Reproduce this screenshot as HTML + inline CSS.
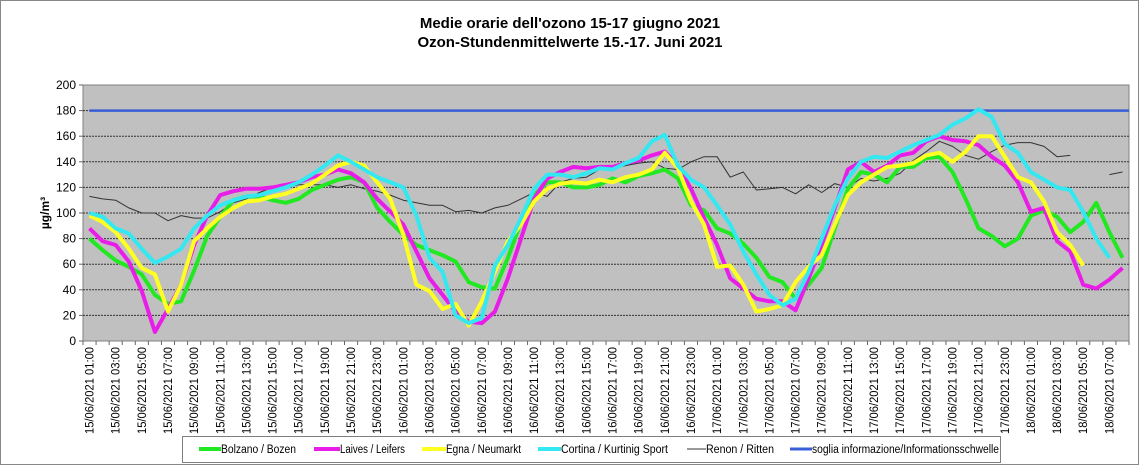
<!DOCTYPE html>
<html><head><meta charset="utf-8"><style>
html,body{margin:0;padding:0;background:#fff;}
svg{display:block;font-family:"Liberation Sans",Arial,sans-serif;}
</style></head><body>
<svg id="c" width="1140" height="466" viewBox="0 0 1140 466" xmlns="http://www.w3.org/2000/svg">
<rect x="0.5" y="0.5" width="1138" height="464" fill="#fff" stroke="#888" stroke-width="1"/>
<text x="570" y="28" font-size="15" font-weight="bold" text-anchor="middle">Medie orarie  dell'ozono  15-17  giugno  2021</text>
<text x="570" y="47" font-size="15" font-weight="bold" text-anchor="middle">Ozon-Stundenmittelwerte 15.-17. Juni 2021</text>
<rect x="83" y="85" width="1046" height="256" fill="#c0c0c0" stroke="#808080" stroke-width="1"/>
<g id="grid"></g>
<g id="series"></g>
<text transform="translate(49,213) rotate(-90)" font-size="12" font-weight="bold" text-anchor="middle">µg/m³</text>
<g id="ylab" font-size="12" text-anchor="end"></g>
<g id="xlab" font-size="11.5"></g>
<rect x="182.5" y="436.5" width="818" height="26" fill="#fff" stroke="#808080"/>
<g font-size="11.5">
<line x1="199" y1="449" x2="221" y2="449" stroke="#22e822" stroke-width="4"/><text x="221" y="453" textLength="75" lengthAdjust="spacingAndGlyphs">Bolzano / Bozen</text>
<line x1="314" y1="449" x2="340" y2="449" stroke="#e81ee8" stroke-width="4"/><text x="340" y="453" textLength="65" lengthAdjust="spacingAndGlyphs">Laives / Leifers</text>
<line x1="422" y1="449" x2="446" y2="449" stroke="#ffff22" stroke-width="4"/><text x="446" y="453" textLength="75" lengthAdjust="spacingAndGlyphs">Egna / Neumarkt</text>
<line x1="538" y1="449" x2="561" y2="449" stroke="#33e8f0" stroke-width="4"/><text x="561" y="453" textLength="107" lengthAdjust="spacingAndGlyphs">Cortina  / Kurtinig Sport</text>
<line x1="687" y1="449" x2="706" y2="449" stroke="#333" stroke-width="1"/><text x="706" y="453" textLength="68" lengthAdjust="spacingAndGlyphs">Renon / Ritten</text>
<line x1="790" y1="449" x2="812" y2="449" stroke="#3a5ed8" stroke-width="3"/><text x="812" y="453" textLength="187" lengthAdjust="spacingAndGlyphs">soglia informazione/Informationsschwelle</text>
</g>
</svg>
<script>
const NS="http://www.w3.org/2000/svg";
const L=83,T=85,B=341,W=1046,N=80,st=W/N;
const X=i=>L+st*(i+0.5), Y=v=>B-v*1.28;
function el(p,tag,a,txt){const e=document.createElementNS(NS,tag);for(const k in a)e.setAttribute(k,a[k]);if(txt!=null)e.textContent=txt;document.getElementById(p).appendChild(e);return e;}
for(let v=0;v<=200;v+=20){const y=Y(v);
 if(v>0&&v<200)el("grid","line",{x1:L,x2:L+W,y1:y,y2:y,stroke:"#333","stroke-width":1,"stroke-dasharray":"2,1"});
 el("grid","line",{x1:L-4,x2:L,y1:y,y2:y,stroke:"#666"});
 el("ylab","text",{x:L-7,y:y+4},v);}
for(let i=0;i<=N;i++){const x=L+st*i;el("grid","line",{x1:x,x2:x,y1:B,y2:B+4,stroke:"#666"});}
const days=["15","16","17","18"];
for(let i=0;i<N;i+=2){const h=i%24+1,d=Math.floor(i/24);
 const s=days[d]+"/06/2021 "+(h<10?"0":"")+h+":00";
 el("xlab","text",{transform:`translate(${X(i)+4},${B+6}) rotate(-90)`,"text-anchor":"end",textLength:87,lengthAdjust:"spacingAndGlyphs"},s);}
el("series","line",{x1:X(0),x2:L+W,y1:Y(180),y2:Y(180),stroke:"#3a5ed8","stroke-width":2.5});
const G=[80,71,63,58,52,36,29,31,55,82,97,110,113,113,110,108,111,118,122,126,128,124,104,93,83,75,71,67,62,46,42,41,65,93,114,124,124,120,120,122,127,124,129,131,134,127,106,102,88,84,76,65,50,46,33,44,57,88,119,132,130,124,136,136,143,144,132,111,88,82,74,80,98,102,97,85,93,108,85,65];
const M=[88,78,75,62,39,7,25,44,75,98,114,117,119,119,120,122,124,128,130,134,131,124,111,101,91,70,49,36,23,15,14,23,49,80,111,127,132,136,135,136,136,139,141,145,148,137,119,96,75,49,41,33,31,31,24,49,75,104,134,140,132,137,145,147,156,160,157,156,153,144,137,124,101,104,78,70,44,41,48,57];
const Yl=[98,93,85,72,57,52,23,44,78,88,97,104,109,110,113,115,119,123,130,137,140,137,124,111,83,44,39,25,29,12,31,54,78,91,109,119,123,124,123,126,124,128,130,134,147,135,109,91,58,59,44,23,25,28,46,58,67,91,114,124,130,136,137,139,145,147,140,148,160,160,144,128,124,109,85,75,59];
const C=[100,97,88,84,72,61,66,72,88,98,106,110,113,114,117,120,124,130,137,145,140,134,128,124,120,98,65,54,20,14,18,59,75,96,119,130,130,128,131,135,134,139,143,156,161,137,126,120,106,91,70,52,36,28,33,54,80,106,127,140,144,143,148,153,157,161,169,174,181,175,154,147,132,126,120,118,101,80,65];
const K=[113,111,110,104,100,100,94,98,96,96,101,108,111,116,120,120,122,122,122,120,122,119,117,114,110,108,106,106,101,102,100,104,106,111,116,113,124,127,128,134,135,137,139,140,135,134,140,144,144,128,132,118,119,120,115,122,116,123,120,127,125,127,131,141,148,156,152,145,142,148,153,155,155,152,144,145,null,null,130,132];
function poly(d,col,w){let seg=[];const segs=[];d.forEach((v,i)=>{if(v==null){if(seg.length)segs.push(seg);seg=[];}else seg.push(X(i).toFixed(1)+","+Y(v).toFixed(1));});if(seg.length)segs.push(seg);
 segs.forEach(s=>el("series","polyline",{points:s.join(" "),fill:"none",stroke:col,"stroke-width":w,"stroke-linejoin":"round"}));}
poly(K,"#333",1);
poly(G,"#22e822",4);
poly(M,"#e81ee8",4);
poly(Yl,"#ffff22",4);
poly(C,"#33e8f0",4);
</script>
</body></html>
